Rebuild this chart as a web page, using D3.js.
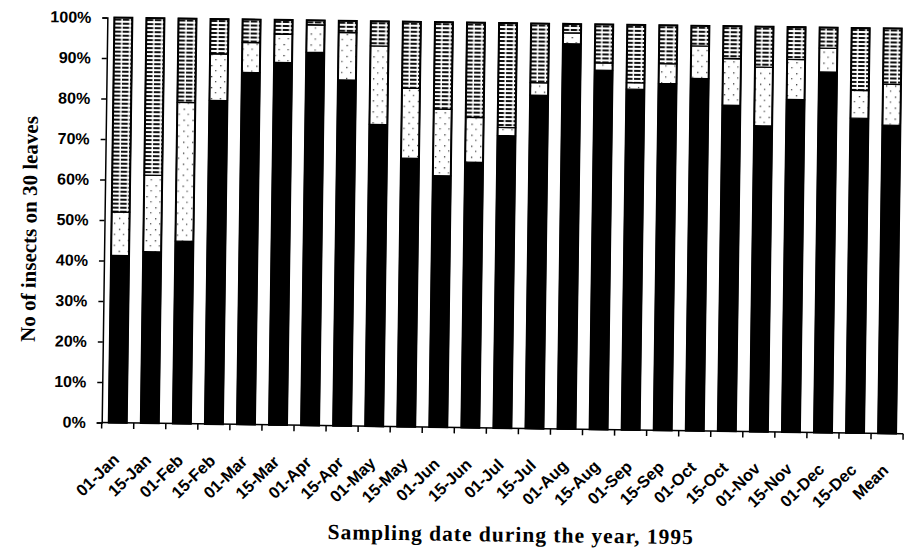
<!DOCTYPE html>
<html>
<head>
<meta charset="utf-8">
<script src="https://cdn.jsdelivr.net/npm/d3@7"></script>
<style>
  html, body { margin: 0; padding: 0; background: #fff; }
  svg { display: block; }
</style>
</head>
<body>
<svg id="chart" width="904" height="553"></svg>
<script>
const categories = ["01-Jan","15-Jan","01-Feb","15-Feb","01-Mar","15-Mar","01-Apr","15-Apr","01-May","15-May","01-Jun","15-Jun","01-Jul","15-Jul","01-Aug","15-Aug","01-Sep","15-Sep","01-Oct","15-Oct","01-Nov","15-Nov","01-Dec","15-Dec","Mean"];
const blackValues   = [41.3,42.3,45.0,79.9,86.9,89.5,92.1,85.4,74.5,66.3,62.1,65.5,72.2,82.3,95.1,88.7,84.1,85.6,87.0,80.5,75.5,82.1,89.0,77.7,76.1];
const dottedValues  = [10.7,18.9,34.3,11.5,7.4,7.0,6.8,11.7,19.4,17.3,16.4,11.1,2.0,3.1,2.7,1.8,1.6,4.9,8.0,11.5,14.5,9.9,5.9,6.9,10.1];
const stripedValues = [48.0,38.8,20.7,8.6,5.7,3.5,1.1,2.9,6.1,16.4,21.5,23.4,25.8,14.6,2.2,9.5,14.3,9.5,5.0,8.0,10.0,8.0,5.1,15.4,13.8];
const yTicks = [0,10,20,30,40,50,60,70,80,90,100];
const yTitle = "No of insects on 30 leaves";
const xTitle = "Sampling date during the year, 1995";

const svg = d3.select("#chart");
const defs = svg.append("defs");

// dotted fill
const pd = defs.append("pattern").attr("id","dots").attr("patternUnits","userSpaceOnUse")
  .attr("width",9).attr("height",11);
pd.append("rect").attr("width",9).attr("height",11).attr("fill","#fff");
pd.append("rect").attr("x",2).attr("y",3).attr("width",1.3).attr("height",1.3).attr("fill","#333");
pd.append("rect").attr("x",6).attr("y",8).attr("width",1.3).attr("height",1.3).attr("fill","#555");

// striped fill
const ps = defs.append("pattern").attr("id","stripes").attr("patternUnits","userSpaceOnUse")
  .attr("width",8).attr("height",4);
ps.append("rect").attr("width",8).attr("height",4).attr("fill","#fff");
ps.append("rect").attr("x",0).attr("y",0).attr("width",6.5).attr("height",2).attr("fill","#111");

const root = svg.append("g").attr("transform","rotate(0.8,500,225)");

const x = d3.scaleBand().domain(categories).range([104.5, 906]).paddingInner(0.44).paddingOuter(0.22).align(0.5);
const y = d3.scaleLinear().domain([0,100]).range([428, 23]);

const series = [
  {key:"black", values: blackValues, fill:"#000"},
  {key:"dotted", values: dottedValues, fill:"url(#dots)"},
  {key:"striped", values: stripedValues, fill:"url(#stripes)"}
];
const rows = categories.map((c,i) => {
  const r = {cat:c};
  series.forEach(s => r[s.key] = s.values[i]);
  return r;
});
const stack = d3.stack().keys(series.map(s=>s.key));
const stacked = stack(rows);

const bw = x.bandwidth();
stacked.forEach((layer, li) => {
  root.append("g").selectAll("rect").data(layer).join("rect")
    .attr("x", d => x(d.data.cat))
    .attr("width", bw)
    .attr("y", d => y(d[1]))
    .attr("height", d => y(d[0]) - y(d[1]))
    .attr("fill", series[li].fill)
    .attr("stroke","#000").attr("stroke-width",1.3);
});
// bar outlines
root.append("g").selectAll("rect").data(rows).join("rect")
  .attr("x", d => x(d.cat)).attr("width", bw)
  .attr("y", d => y(d.black + d.dotted + d.striped))
  .attr("height", d => y(0) - y(d.black + d.dotted + d.striped))
  .attr("fill","none").attr("stroke","#000").attr("stroke-width",2);

// Y axis
const yAxis = root.append("g").attr("transform",`translate(104.5,0)`)
  .call(d3.axisLeft(y).tickValues(yTicks).tickFormat(d => d + "%").tickSize(5).tickPadding(11));
yAxis.select(".domain").attr("stroke","#000").attr("stroke-width",1.5);
yAxis.selectAll(".tick line").attr("stroke","#000").attr("stroke-width",1.5);
yAxis.selectAll(".tick text").attr("font-family","'Liberation Sans', Arial, sans-serif")
  .attr("font-weight","bold").attr("font-size",16).attr("fill","#000");

// X axis (ticks at category boundaries)
const step = x.step();
const boundaries = categories.map(c => x(c) - (step - bw)/2).concat([x(categories[categories.length-1]) + bw + (step-bw)/2]);
const xa = root.append("g");
xa.append("line").attr("x1",104.5).attr("x2",906).attr("y1",y(0)).attr("y2",y(0))
  .attr("stroke","#000").attr("stroke-width",1.5);
xa.selectAll("line.tk").data(boundaries).join("line").attr("class","tk")
  .attr("x1",d=>d).attr("x2",d=>d).attr("y1",y(0)).attr("y2",y(0)+6)
  .attr("stroke","#000").attr("stroke-width",1.5);
xa.selectAll("text").data(categories).join("text")
  .attr("transform", d => `translate(${x(d) + bw/2 + 3},${y(0) + 38}) rotate(-45)`)
  .attr("text-anchor","end")
  .attr("font-family","'Liberation Sans', Arial, sans-serif")
  .attr("font-weight","bold").attr("font-size",16.5).attr("fill","#000")
  .text(d => d);

// titles
root.append("text")
  .attr("transform","translate(36.5,235.5) rotate(-90)")
  .attr("text-anchor","middle")
  .attr("font-family","'Liberation Serif', 'Times New Roman', serif")
  .attr("font-weight","bold").attr("font-size",21).attr("fill","#000")
  .text(yTitle);
root.append("text")
  .attr("x",515).attr("y",541.5)
  .attr("text-anchor","middle")
  .attr("font-family","'Liberation Serif', 'Times New Roman', serif")
  .attr("font-weight","bold").attr("font-size",21.5).attr("letter-spacing",1).attr("fill","#000")
  .text(xTitle);
</script>
</body>
</html>
